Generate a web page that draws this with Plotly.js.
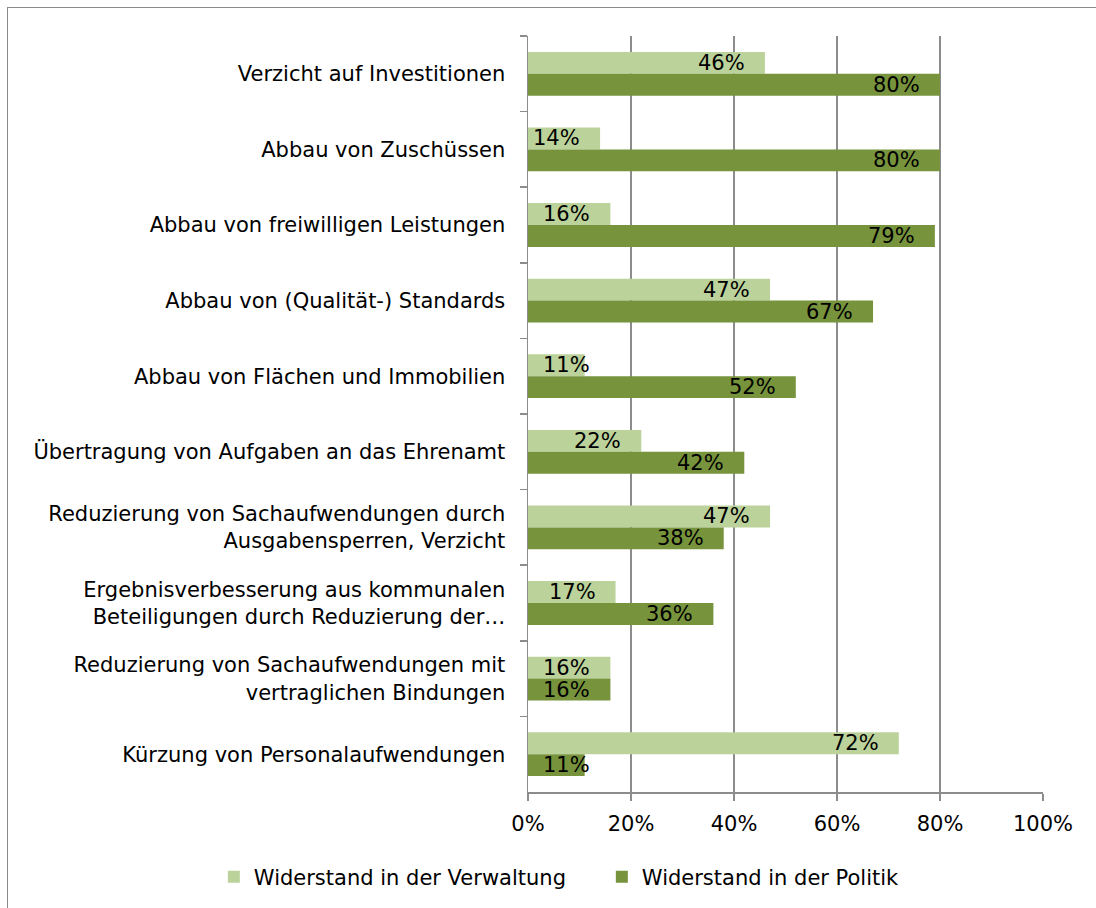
<!DOCTYPE html>
<html>
<head>
<meta charset="utf-8">
<script src="https://cdn.plot.ly/plotly-3.0.1.min.js"></script>
<style>
  html, body { margin: 0; padding: 0; background: #fff; }
  #frame { position: absolute; left: 7px; top: 7px; width: 1100px; height: 910px; border: 1px solid #8a8a8a; box-sizing: border-box; }
  #chart { position: absolute; left: 0; top: 0; width: 1096px; height: 908px; }
</style>
</head>
<body>
<div id="frame"></div>
<div id="chart"></div>
<script>
const categories = [
  "Verzicht auf Investitionen",
  "Abbau von Zuschüssen",
  "Abbau von freiwilligen Leistungen",
  "Abbau von (Qualität-) Standards",
  "Abbau von Flächen und Immobilien",
  "Übertragung von Aufgaben an das Ehrenamt",
  "Reduzierung von Sachaufwendungen durch<br>Ausgabensperren, Verzicht",
  "Ergebnisverbesserung aus kommunalen<br>Beteiligungen durch Reduzierung der…",
  "Reduzierung von Sachaufwendungen mit<br>vertraglichen Bindungen",
  "Kürzung von Personalaufwendungen"
];
const verwaltung = [46, 14, 16, 47, 11, 22, 47, 17, 16, 72];
const politik    = [80, 80, 79, 67, 52, 42, 38, 36, 16, 11];
const seriesNames = ["Widerstand in der Verwaltung", "Widerstand in der Politik"];
const xTickVals = [0, 20, 40, 60, 80, 100];
const xTickText = ["0%", "20%", "40%", "60%", "80%", "100%"];

const lightGreen = "#bcd29b";
const darkGreen = "#77933c";
const font = "DejaVu Sans, Verdana, sans-serif";
const fs = 21;

const traces = [
  { type: "bar", orientation: "h", name: seriesNames[0], y: categories, x: verwaltung,
    marker: { color: lightGreen }, hoverinfo: "x+y" },
  { type: "bar", orientation: "h", name: seriesNames[1], y: categories, x: politik,
    marker: { color: darkGreen }, hoverinfo: "x+y" }
];

function labelsFor(vals, shift) {
  return vals.map((v, i) => {
    const shortBar = v < 14;
    return {
      x: shortBar ? 0 : v, y: categories[i], xref: "x", yref: "y",
      text: v + "%", showarrow: false,
      xanchor: shortBar ? "left" : "right",
      xshift: shortBar ? 13 : -18,
      yshift: shift,
      font: { family: font, size: fs, color: "#000" }
    };
  });
}

const layout = {
  width: 1096, height: 908,
  margin: { l: 528, r: 53, t: 36, b: 115 },
  paper_bgcolor: "rgba(0,0,0,0)",
  plot_bgcolor: "rgba(0,0,0,0)",
  barmode: "group", bargap: 0.42, bargroupgap: 0,
  font: { family: font, size: fs, color: "#000" },
  xaxis: {
    range: [0, 100], tickvals: xTickVals, ticktext: xTickText,
    showgrid: true, gridcolor: "#8c8c8c", gridwidth: 1.5,
    showline: true, linecolor: "#8c8c8c", linewidth: 1.5,
    ticks: "outside", ticklen: 7, tickcolor: "#8c8c8c", tickwidth: 1.5,
    zeroline: false, fixedrange: true, ticklabelstandoff: 5,
    tickfont: { family: font, size: fs, color: "#000" }
  },
  yaxis: {
    autorange: "reversed", type: "category",
    showline: true, linecolor: "#8c8c8c", linewidth: 1.5,
    ticks: "outside", ticklen: 7, tickcolor: "#8c8c8c", tickwidth: 1.5,
    tickson: "boundaries", showgrid: false, ticklabelstandoff: 17,
    tickfont: { family: font, size: fs, color: "#000" }
  },
  showlegend: true,
  legend: {
    orientation: "h", xref: "paper", yref: "paper",
    x: -0.61, xanchor: "left", y: -0.111, yanchor: "middle",
    font: { family: font, size: fs, color: "#000" },
    itemwidth: 30, entrywidth: 343, entrywidthmode: "pixels",
    bgcolor: "rgba(0,0,0,0)"
  },
  annotations: labelsFor(verwaltung, 11).concat(labelsFor(politik, -11))
};

Plotly.newPlot("chart", traces, layout, { displayModeBar: false, staticPlot: true });
</script>
</body>
</html>
